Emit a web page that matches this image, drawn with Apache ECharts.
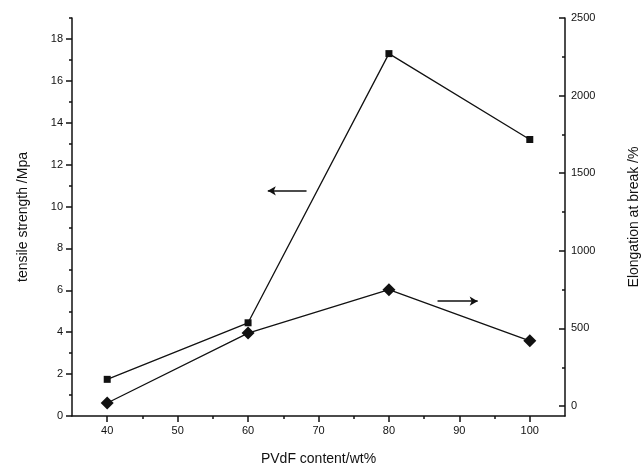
<!DOCTYPE html>
<html>
<head>
<meta charset="utf-8">
<script src="https://cdn.jsdelivr.net/npm/echarts@6/dist/echarts.min.js"></script>
<style>
    html, body { margin: 0; padding: 0; background: #fff; }
    #chart { width: 642px; height: 472px; }
</style>
</head>
<body>
<div id="chart"></div>
<script>
// PVdF 含量
var pvdfContent = [40, 60, 80, 100];
// 拉伸强度 /Mpa
var tensileStrength = [1.75, 4.45, 17.3, 13.2];
// 断裂伸长率 /%
var elongation = [20, 470, 750, 420];

var xMajor = [40, 50, 60, 70, 80, 90, 100];
var xMinor = [45, 55, 65, 75, 85, 95];
var leftMajor = [0, 2, 4, 6, 8, 10, 12, 14, 16, 18];
var leftMinor = [1, 3, 5, 7, 9, 11, 13, 15, 17, 19];
var rightMajor = [0, 500, 1000, 1500, 2000, 2500];
var rightMinor = [250, 750, 1250, 1750, 2250];

var font = "Liberation Sans, Arial, sans-serif";
var black = "#111";

function pairs(xs, ys) {
    var out = [];
    for (var i = 0; i < xs.length; i++) {
        out.push([xs[i], ys[i]]);
    }
    return out;
}

function plain(v) {
    return String(v);
}

var minorAxis = {
    axisLine: {show: false},
    axisLabel: {show: false},
    splitLine: {show: false}
};

var option = {
    animation: false,
    grid: {left: 72, right: 77, top: 18, bottom: 56, outerBoundsMode: "none", containLabel: false},
    xAxis: [
        {
            type: "value",
            min: 35,
            max: 105,
            name: "PVdF content/wt%",
            nameLocation: "middle",
            nameGap: 36,
            nameTextStyle: {fontFamily: font, fontSize: 14, color: black},
            axisLine: {show: true, lineStyle: {color: black, width: 1.5}},
            axisTick: {show: true, length: 6, customValues: xMajor, lineStyle: {color: black, width: 1.5}},
            axisLabel: {customValues: xMajor, formatter: plain, margin: 9, fontFamily: font, fontSize: 11, color: black},
            splitLine: {show: false}
        },
        Object.assign({
            type: "value", min: 35, max: 105, position: "bottom",
            axisTick: {show: true, length: 3, customValues: xMinor, lineStyle: {color: black, width: 1.5}}
        }, minorAxis)
    ],
    yAxis: [
        {
            type: "value",
            min: 0,
            max: 19,
            position: "left",
            name: "tensile strength /Mpa",
            nameLocation: "middle",
            nameGap: 42,
            nameTextStyle: {fontFamily: font, fontSize: 14, color: black},
            axisLine: {show: true, lineStyle: {color: black, width: 1.5}},
            axisTick: {show: true, length: 6, customValues: leftMajor, lineStyle: {color: black, width: 1.5}},
            axisLabel: {customValues: leftMajor, formatter: plain, margin: 9, fontFamily: font, fontSize: 11, color: black},
            splitLine: {show: false}
        },
        Object.assign({
            type: "value", min: 0, max: 19, position: "left",
            axisTick: {show: true, length: 3, customValues: leftMinor, lineStyle: {color: black, width: 1.5}}
        }, minorAxis),
        {
            type: "value",
            min: -64,
            max: 2500,
            position: "right",
            name: "Elongation at break /%",
            nameLocation: "middle",
            nameGap: 62,
            nameRotate: 90,
            nameTextStyle: {fontFamily: font, fontSize: 14, color: black},
            axisLine: {show: true, lineStyle: {color: black, width: 1.5}},
            axisTick: {show: true, inside: true, length: 6, customValues: rightMajor, lineStyle: {color: black, width: 1.5}},
            axisLabel: {customValues: rightMajor, formatter: plain, margin: 6, fontFamily: font, fontSize: 11, color: black},
            splitLine: {show: false}
        },
        Object.assign({
            type: "value", min: -64, max: 2500, position: "right",
            axisTick: {show: true, inside: true, length: 3, customValues: rightMinor, lineStyle: {color: black, width: 1.5}}
        }, minorAxis)
    ],
    series: [
        {
            name: "tensile strength",
            type: "line",
            yAxisIndex: 0,
            data: pairs(pvdfContent, tensileStrength),
            symbol: "rect",
            symbolSize: 7,
            itemStyle: {color: black},
            lineStyle: {color: black, width: 1.3},
            markLine: {
                silent: true,
                symbol: ["none", "arrow"],
                symbolSize: [7, 8],
                label: {show: false},
                lineStyle: {color: black, width: 1.5, type: "solid"},
                data: [[{coord: [68.3, 10.75]}, {coord: [62.8, 10.75]}]]
            }
        },
        {
            name: "elongation",
            type: "line",
            yAxisIndex: 2,
            data: pairs(pvdfContent, elongation),
            symbol: "diamond",
            symbolSize: 13,
            itemStyle: {color: black},
            lineStyle: {color: black, width: 1.3},
            markLine: {
                silent: true,
                symbol: ["none", "arrow"],
                symbolSize: [7, 8],
                label: {show: false},
                lineStyle: {color: black, width: 1.5, type: "solid"},
                data: [[{coord: [86.9, 676]}, {coord: [92.6, 676]}]]
            }
        }
    ]
};

var chart = echarts.init(document.getElementById("chart"));
chart.setOption(option);
</script>
</body>
</html>
